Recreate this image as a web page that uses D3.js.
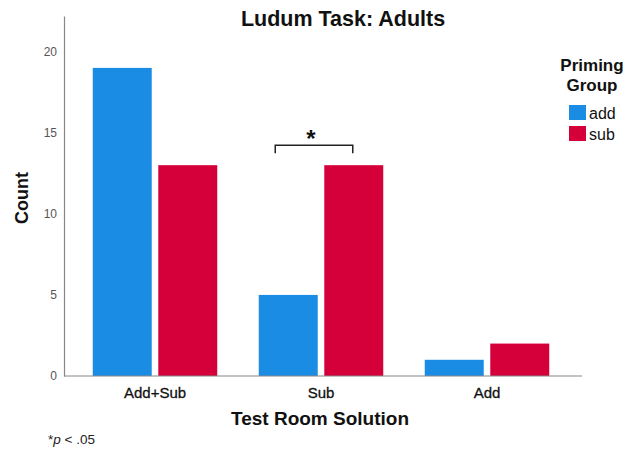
<!DOCTYPE html>
<html>
<head>
<meta charset="utf-8">
<script src="https://cdn.jsdelivr.net/npm/d3@7"></script>
<style>
  body { margin: 0; background: #fff; }
  svg { display: block; font-family: Arial, "Liberation Sans", sans-serif; }
</style>
</head>
<body>
<div id="chart"></div>
<script>
// Data
const categories = ['Add+Sub', 'Sub', 'Add'];
const groups = ['add', 'sub'];
const addCounts = [19, 5, 1];
const subCounts = [13, 13, 2];
const yTicks = [0, 5, 10, 15, 20];

const width = 628;
const height = 449;
const colors = { add: '#1a8ce4', sub: '#d5003a' };

const rows = categories.map((c, i) => ({ category: c, add: addCounts[i], sub: subCounts[i] }));

const svg = d3.select('#chart').append('svg')
    .attr('width', width)
    .attr('height', height);

// Scales
const x0 = d3.scaleBand()
    .domain(categories)
    .range([72, 570])
    .paddingInner(0.25)
    .paddingOuter(0.125);

const x1 = d3.scaleBand()
    .domain(groups)
    .range([0, x0.bandwidth()])
    .paddingInner(0.1);

const y = d3.scaleLinear()
    .domain([0, 22.2])
    .range([376, 16]);

// Bars
const groupSel = svg.append('g').selectAll('g')
    .data(rows)
    .join('g')
    .attr('transform', d => `translate(${x0(d.category)},0)`);

groupSel.selectAll('rect')
    .data(d => groups.map(g => ({ key: g, value: d[g] })))
    .join('rect')
    .attr('x', d => x1(d.key))
    .attr('y', d => y(d.value))
    .attr('width', x1.bandwidth())
    .attr('height', d => y(0) - y(d.value))
    .attr('fill', d => colors[d.key]);

// Y axis (no tick marks, grey line)
const yAxis = svg.append('g')
    .attr('transform', 'translate(64,0)')
    .call(d3.axisLeft(y).tickValues(yTicks).tickSize(0).tickPadding(7));
yAxis.select('.domain').attr('stroke', '#888').attr('stroke-width', 1.2);
yAxis.selectAll('text')
    .attr('font-size', '12px')
    .attr('fill', '#555')
    .attr('font-family', 'Arial, "Liberation Sans", sans-serif');

// X axis
const xAxis = svg.append('g')
    .attr('transform', `translate(0,${y(0)})`)
    .call(d3.axisBottom(x0).tickSize(0).tickPadding(11));
xAxis.select('.domain').remove();
xAxis.selectAll('text')
    .attr('font-size', '15px')
    .attr('fill', '#111')
    .attr('stroke', '#111')
    .attr('stroke-width', 0.3)
    .attr('font-family', 'Arial, "Liberation Sans", sans-serif');
svg.append('line')
    .attr('x1', 64).attr('x2', 582)
    .attr('y1', y(0)).attr('y2', y(0))
    .attr('stroke', '#888')
    .attr('stroke-width', 1.2);

// Title
svg.append('text')
    .attr('x', 343)
    .attr('y', 26)
    .attr('text-anchor', 'middle')
    .attr('font-size', '21.5px')
    .attr('font-weight', 'bold')
    .attr('fill', '#111')
    .text('Ludum Task: Adults');

// Axis titles
svg.append('text')
    .attr('transform', 'translate(28,198) rotate(-90)')
    .attr('text-anchor', 'middle')
    .attr('font-size', '18px')
    .attr('font-weight', 'bold')
    .attr('fill', '#111')
    .text('Count');

svg.append('text')
    .attr('x', 320)
    .attr('y', 425)
    .attr('text-anchor', 'middle')
    .attr('font-size', '19px')
    .attr('font-weight', 'bold')
    .attr('fill', '#111')
    .text('Test Room Solution');

// Footnote
const note = svg.append('text')
    .attr('x', 48)
    .attr('y', 444)
    .attr('font-size', '13.5px')
    .attr('fill', '#222');
note.append('tspan').text('*');
note.append('tspan').attr('font-style', 'italic').text('p');
note.append('tspan').text(' < .05');

// Significance bracket over "Sub"
const bw = x1.bandwidth();
const bx1 = x0('Sub') + x1('add') + bw / 2 - 13;
const bx2 = x0('Sub') + x1('sub') + bw / 2 - 1;
const by = y(subCounts[1]) - 20;
svg.append('path')
    .attr('d', `M${bx1},${by + 8}V${by}H${bx2}V${by + 8}`)
    .attr('fill', 'none')
    .attr('stroke', '#222')
    .attr('stroke-width', 1.5);
svg.append('text')
    .attr('x', (bx1 + bx2) / 2 - 3)
    .attr('y', by + 2)
    .attr('text-anchor', 'middle')
    .attr('font-size', '24px')
    .attr('font-weight', 'bold')
    .attr('fill', '#111')
    .text('*');

// Legend
const legend = svg.append('g');
legend.append('text')
    .attr('x', 592).attr('y', 71)
    .attr('text-anchor', 'middle')
    .attr('font-size', '17px')
    .attr('font-weight', 'bold')
    .attr('fill', '#111')
    .text('Priming');
legend.append('text')
    .attr('x', 592).attr('y', 91)
    .attr('text-anchor', 'middle')
    .attr('font-size', '17px')
    .attr('font-weight', 'bold')
    .attr('fill', '#111')
    .text('Group');

const items = legend.selectAll('g.item')
    .data(groups)
    .join('g')
    .attr('class', 'item')
    .attr('transform', (d, i) => `translate(569,${105 + i * 21})`);
items.append('rect')
    .attr('width', 17)
    .attr('height', 15)
    .attr('fill', d => colors[d]);
items.append('text')
    .attr('x', 20)
    .attr('y', 14)
    .attr('font-size', '16px')
    .attr('fill', '#111')
    .text(d => d);
</script>
</body>
</html>
